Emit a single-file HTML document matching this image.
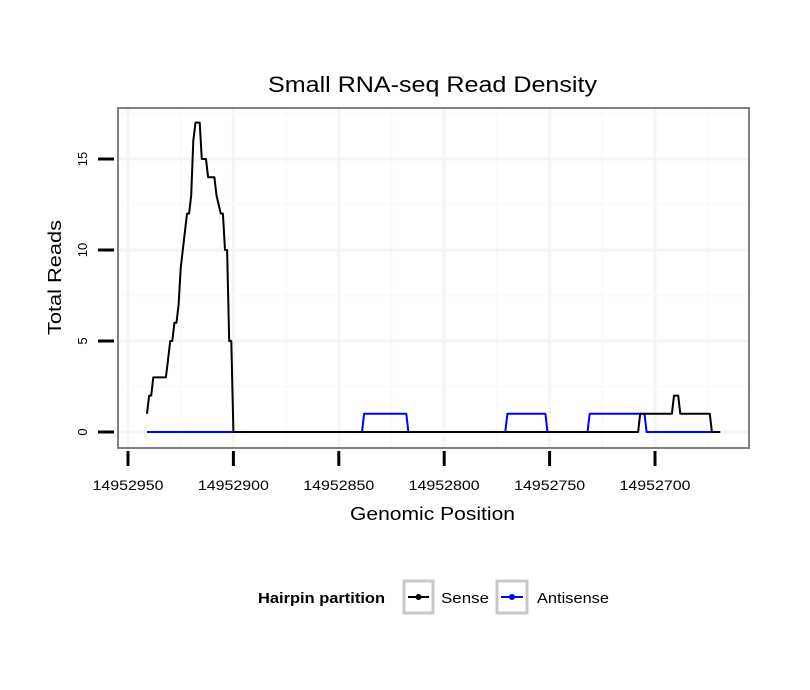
<!DOCTYPE html>
<html><head><meta charset="utf-8"><style>
body{margin:0;background:#fff;}
svg{display:block;font-family:"Liberation Sans",sans-serif;}
</style></head><body>
<svg id="chart" width="810" height="690">
<text x="268" y="92" font-size="22" textLength="329" lengthAdjust="spacingAndGlyphs">Small RNA-seq Read Density</text>
<g id="grid"></g>
<rect x="118" y="108" width="631" height="340" fill="none" stroke="#808080" stroke-width="2"/>
<g id="axes"></g>
<g id="series"></g>
<text x="350" y="520" font-size="18" textLength="165" lengthAdjust="spacingAndGlyphs">Genomic Position</text>
<text transform="translate(61,335) rotate(-90)" font-size="18" textLength="115" lengthAdjust="spacingAndGlyphs">Total Reads</text>
<g>
<text x="258" y="603" font-size="15" font-weight="bold" textLength="127" lengthAdjust="spacingAndGlyphs">Hairpin partition</text>
<g>
<rect x="404" y="581" width="29" height="32" fill="#fff" stroke="#c8c8c8" stroke-width="3"/>
<line x1="408" y1="597" x2="429" y2="597" stroke="#000" stroke-width="2"/><circle cx="418.5" cy="597" r="3" fill="#000"/>
<text x="441" y="603" font-size="15" textLength="48" lengthAdjust="spacingAndGlyphs">Sense</text></g>
<g>
<rect x="497" y="581" width="30" height="32" fill="#fff" stroke="#c8c8c8" stroke-width="3"/>
<line x1="501" y1="597" x2="523" y2="597" stroke="#0000ff" stroke-width="2"/><circle cx="512" cy="597" r="3" fill="#0000ff"/>
<text x="537" y="603" font-size="15" textLength="72" lengthAdjust="spacingAndGlyphs">Antisense</text></g>
</g>
</svg>
<script>
const xTicks=[14952950,14952900,14952850,14952800,14952750,14952700];
const xTickLabels=["14952950","14952900","14952850","14952800","14952750","14952700"];
const yTicks=[0,5,10,15];
const yTickLabels=["0","5","10","15"];
const sensePos=[14952941,14952940,14952939,14952938,14952932,14952931,14952930,14952929,14952928,14952927,14952926,14952925,14952924,14952923,14952922,14952921,14952920,14952919,14952918,14952916,14952915,14952913,14952912,14952909,14952908,14952906,14952905,14952904,14952903,14952902,14952901,14952900,14952899,14952708,14952707,14952692,14952691,14952689,14952688,14952674,14952673,14952669];
const senseVal=[1,2,2,3,3,4,5,5,6,6,7,9,10,11,12,12,13,16,17,17,15,15,14,14,13,12,12,10,10,5,5,0,0,0,1,1,2,2,1,1,0,0];
const antiPos=[14952941,14952839,14952838,14952818,14952817,14952771,14952770,14952752,14952751,14952732,14952731,14952705,14952704,14952673];
const antiVal=[0,0,1,1,0,0,1,1,0,0,1,1,0,0];
const X=p=>128+(14952950-p)*2.108;
const Y=v=>432-v*18.2;
const NS="http://www.w3.org/2000/svg";
function mk(t,a,parent){const e=document.createElementNS(NS,t);for(const k in a)e.setAttribute(k,a[k]);parent.appendChild(e);return e;}
const grid=document.getElementById('grid'),axes=document.getElementById('axes'),series=document.getElementById('series');
mk('rect',{x:118,y:108,width:631,height:340,fill:'#fff'},grid);
for(let i=0;i<xTicks.length;i++){
 const x=X(xTicks[i]);
 const g=mk('line',{x1:x,y1:108,x2:x,y2:448,stroke:'#f5f5f5','stroke-width':3},grid);
 
 
 const xm=X(xTicks[i]-25);if(xm<749)mk('line',{x1:xm,y1:108,x2:xm,y2:448,stroke:'#f9f9f9','stroke-width':1.5},grid);
 const t=mk('line',{x1:x,y1:451,x2:x,y2:466,stroke:'#000','stroke-width':3},axes);
 
 
 const l=mk('text',{x:x,y:490,'text-anchor':'middle','font-size':14,textLength:71,lengthAdjust:'spacingAndGlyphs'},axes);l.textContent=xTickLabels[i];
 
 
}
for(let i=0;i<yTicks.length;i++){
 const y=Y(yTicks[i]);
 const g=mk('line',{x1:118,y1:y,x2:749,y2:y,stroke:'#f5f5f5','stroke-width':3},grid);
 
 
 const ym=Y(yTicks[i]+2.5);mk('line',{x1:118,y1:ym,x2:749,y2:ym,stroke:'#f9f9f9','stroke-width':1.5},grid);
 const t=mk('line',{x1:98,y1:y,x2:114,y2:y,stroke:'#000','stroke-width':3},axes);
 
 
 const l=mk('text',{transform:`translate(87,${y}) rotate(-90)`,'text-anchor':'middle','font-size':13},axes);l.textContent=yTickLabels[i];
 
 
}
function line(pos,val,color,name){
 const pts=pos.map((p,i)=>X(p).toFixed(1)+','+Y(val[i]).toFixed(1)).join(' ');
 const pl=mk('polyline',{points:pts,fill:'none',stroke:color,'stroke-width':2,'stroke-linejoin':'round'},series);
 
 
}
line(antiPos,antiVal,'#0000ff','antisense-line');
line(sensePos,senseVal,'#000','sense-line');
</script>
</body></html>
